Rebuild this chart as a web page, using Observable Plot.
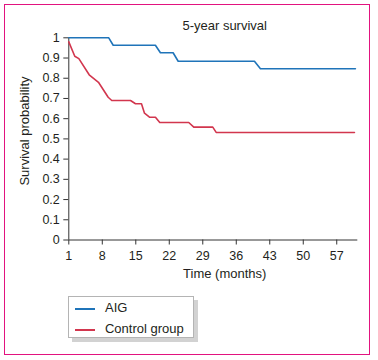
<!DOCTYPE html>
<html>
<head>
<meta charset="utf-8">
<script src="https://cdn.jsdelivr.net/npm/d3@7"></script>
<script src="https://cdn.jsdelivr.net/npm/@observablehq/plot@0.6"></script>
<style>
  html, body { margin: 0; padding: 0; background: #fff; }
  #wrap { position: relative; width: 378px; height: 360px; overflow: hidden;
          font-family: "Liberation Sans", Arial, Helvetica, sans-serif; color: #231f20; }
  #frame { position: absolute; left: 4px; top: 4px; width: 366px; height: 351px;
           box-sizing: border-box; border: 1.5px solid #e2137f; }
  #plot { position: absolute; left: 0; top: 0; }
  .lbl { position: absolute; font-size: 13px; white-space: nowrap; transform: translate(-50%, -50%); }
  #legend { position: absolute; left: 67.7px; top: 295.7px; width: 126.6px; height: 42.6px;
            box-sizing: border-box; border: 1px solid #b4b4b4; background: #fff;
            box-shadow: 4px 4px 0 #d2d2d2; }
  .entry { position: absolute; left: 0; height: 20px; width: 120px; }
  .swatch { position: absolute; left: 6.3px; width: 20px; height: 2px; }
  .etext { position: absolute; left: 36.3px; font-size: 13px; white-space: nowrap; transform: translateY(-50%); }
</style>
</head>
<body>
<div id="wrap">
  <div id="frame"></div>
  <div id="plot"></div>
  <div class="lbl" id="title" style="left:224.7px; top:25px;"></div>
  <div class="lbl" id="ylabel" style="left:24px; top:131px; transform: translate(-50%, -50%) rotate(-90deg);"></div>
  <div class="lbl" id="xlabel" style="left:224.7px; top:273px;"></div>
  <div id="legend"></div>
</div>
<script>
// ---- data ----
const titleText = "5-year survival";
const xLabelText = "Time (months)";
const yLabelText = "Survival probability";
const seriesNames = ["AIG", "Control group"];
const seriesColors = ["#1f74b9", "#d2364e"];

const aigMonths = [1, 9.35, 10.28, 19.1, 20.15, 22.8, 23.86, 39.8, 41.05, 60.9];
const aigSurvival = [1, 1, 0.963, 0.963, 0.926, 0.926, 0.884, 0.884, 0.847, 0.847];

const controlMonths = [1, 2.25, 3.1, 5.26, 7.2, 9.23, 9.98, 13.9, 14.94, 16.19, 16.82, 17.92, 19.11, 20.01, 26.07, 27.12, 31.09, 31.8, 60.7];
const controlSurvival = [0.98, 0.909, 0.897, 0.817, 0.78, 0.706, 0.69, 0.69, 0.674, 0.674, 0.627, 0.607, 0.607, 0.581, 0.581, 0.558, 0.558, 0.532, 0.532];

const xTicks = [1, 8, 15, 22, 29, 36, 43, 50, 57];
const yTicks = [0, 0.1, 0.2, 0.3, 0.4, 0.5, 0.6, 0.7, 0.8, 0.9, 1];
const yTickLabels = ["0", "0.1", "0.2", "0.3", "0.4", "0.5", "0.6", "0.7", "0.8", "0.9", "1"];
const xDomain = [1, 61.4];
const yDomain = [0, 1];

// ---- build table ----
const rows = [];
aigMonths.forEach((m, i) => rows.push({series: seriesNames[0], month: m, surv: aigSurvival[i]}));
controlMonths.forEach((m, i) => rows.push({series: seriesNames[1], month: m, surv: controlSurvival[i]}));

const axisColor = "#333";
const chart = Plot.plot({
  width: 378,
  height: 290,
  marginTop: 37.3,
  marginBottom: 50.5,
  marginLeft: 68.3,
  marginRight: 20.7,
  style: {background: "transparent", fontFamily: '"Liberation Sans", Arial, sans-serif', fontSize: "12.5px", color: "#231f20", overflow: "visible"},
  x: {domain: xDomain, label: null},
  y: {domain: yDomain, label: null},
  color: {domain: seriesNames, range: seriesColors},
  marks: [
    Plot.axisX({ticks: xTicks, tickSize: 5, tickPadding: 6, label: null, stroke: axisColor, fill: "#231f20"}),
    Plot.axisY({ticks: yTicks, tickSize: 5, tickPadding: 4, label: null, stroke: axisColor, fill: "#231f20",
                tickFormat: d => yTickLabels[yTicks.indexOf(d)] ?? String(d)}),
    Plot.ruleY([0], {x1: xDomain[0], x2: xDomain[1], stroke: axisColor, strokeWidth: 1}),
    Plot.ruleX([xDomain[0]], {y1: yDomain[0], y2: yDomain[1], stroke: axisColor, strokeWidth: 1}),
    Plot.line(rows, {x: "month", y: "surv", z: "series", stroke: "series", strokeWidth: 1.6, curve: "linear"})
  ]
});
document.getElementById("plot").appendChild(chart);

document.getElementById("title").textContent = titleText;
document.getElementById("xlabel").textContent = xLabelText;
document.getElementById("ylabel").textContent = yLabelText;

const legend = document.getElementById("legend");
const entryTops = [10.3, 31];
seriesNames.forEach((name, i) => {
  const sw = document.createElement("div");
  sw.className = "swatch";
  sw.style.top = (entryTops[i] + 1.5) + "px";
  sw.style.background = seriesColors[i];
  legend.appendChild(sw);
  const t = document.createElement("div");
  t.className = "etext";
  t.style.top = entryTops[i] + "px";
  t.textContent = name;
  legend.appendChild(t);
});
</script>
</body>
</html>
